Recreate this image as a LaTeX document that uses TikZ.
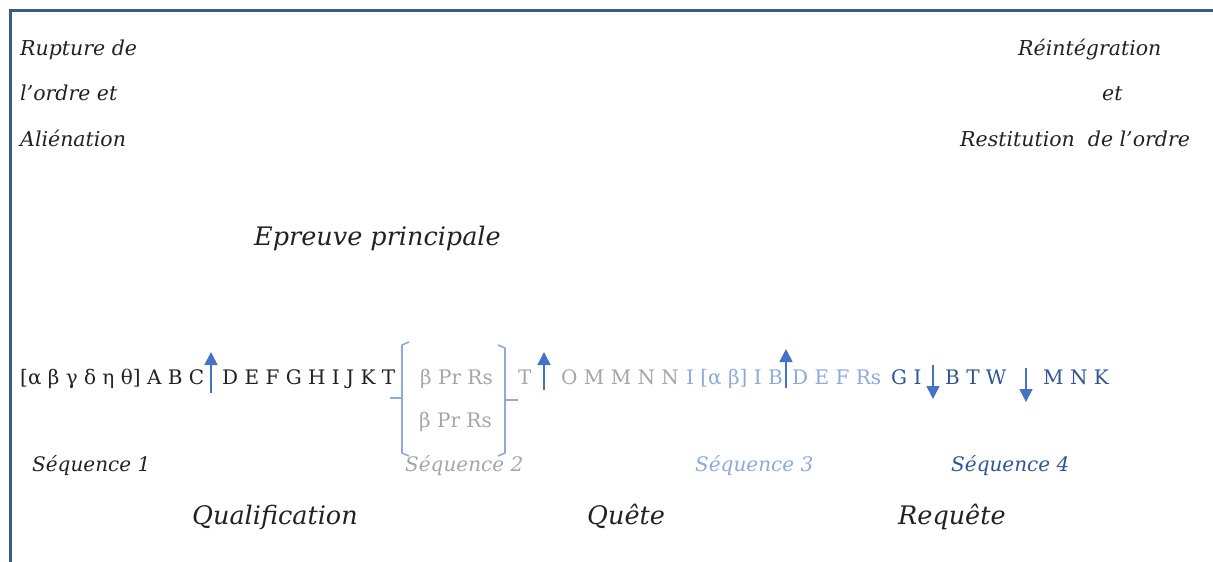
\documentclass[tikz,border=0pt]{standalone}
\usepackage{fontspec}
\setmainfont{DejaVu Serif}
\usetikzlibrary{arrows.meta}
\definecolor{cadre}{HTML}{3B5A85}
\definecolor{gris}{HTML}{A6A6A6}
\definecolor{bleuclair}{HTML}{8EAADB}
\definecolor{bleufonce}{HTML}{2F5597}
\definecolor{fleche}{HTML}{4472C4}
\definecolor{noir}{HTML}{222222}
\begin{document}
\begin{tikzpicture}[x=1pt,y=-1pt,
  txt/.style={inner sep=0pt, anchor=base west, text=noir},
  titre/.style={txt, font=\fontsize{20.5}{20.5}\selectfont\itshape},
  grand/.style={txt, font=\fontsize{25.5}{25.5}\selectfont\itshape},
  seq/.style={txt, font=\fontsize{20}{20}\selectfont\itshape},
  ligne/.style={txt, font=\fontsize{20}{20}\selectfont},
  haut/.style={fleche, line width=1.6pt, -{Triangle[length=13pt,width=13pt]}},
  crochet/.style={bleuclair, line width=1.6pt, line join=round}
]
\useasboundingbox (0,0) rectangle (1213,562);
\draw[cadre, line width=3pt] (10,562) -- (10,10) -- (1213,10);

% top labels
\node[titre] (r1) at (20,55) {Rupture de};
\node[titre] (r2) at (20,100) {l'ordre et};
\node[titre] (r3) at (20,146) {Aliénation};
\node[titre] (d1) at (1018,55) {Réintégration};
\node[titre] (d2) at (1102,100) {et};
\node[titre] (d3) at (960,146) {Restitution\ \ de l'ordre};

\node[grand] (ep) at (254,245) {Epreuve principale};

% main row
\node[ligne] (g1) at (20,384) {[α β γ δ η θ] A B C};
\node[ligne] (g2) at (222,384) {D E F G H I J K T};
\node[ligne, text=gris] (b1) at (420,384) {β Pr Rs};
\node[ligne, text=gris] (b2) at (419,427) {β Pr Rs};
\node[ligne, text=gris] (g3) at (518,384) {T};
\node[ligne, text=gris] (g4) at (561,384) {O M M N N};
\node[ligne, text=bleuclair] (g5) at (686,384) {I [α β] I B};
\node[ligne, text=bleuclair] (g6) at (792,384) {D E F Rs};
\node[ligne, text=bleufonce] (g7) at (891,384) {G I};
\node[ligne, text=bleufonce] (g8) at (945,384) {B T W};
\node[ligne, text=bleufonce] (g9) at (1043,384) {M N K};

% arrows
\coordinate (f1a) at (211,393); \coordinate (f1b) at (211,352);
\coordinate (f2a) at (544,390); \coordinate (f2b) at (544,352);
\coordinate (f3a) at (786,388); \coordinate (f3b) at (786,349);
\coordinate (f4a) at (933,365); \coordinate (f4b) at (933,399);
\coordinate (f5a) at (1026,368); \coordinate (f5b) at (1026,402);
\draw[haut] (f1a) -- (f1b);
\draw[haut] (f2a) -- (f2b);
\draw[haut] (f3a) -- (f3b);
\draw[haut] (f4a) -- (f4b);
\draw[haut] (f5a) -- (f5b);

% brackets
\coordinate (cg1) at (409,342); \coordinate (cg2) at (402,345);
\coordinate (cg3) at (402,453); \coordinate (cg4) at (409,456);
\coordinate (cgm) at (402,398); \coordinate (cgt) at (390,398);
\draw[crochet] (cg1) -- (cg2) -- (cg3) -- (cg4);
\draw[crochet] (cgm) -- (cgt);
\coordinate (cd1) at (498,345); \coordinate (cd2) at (505,348);
\coordinate (cd3) at (505,453); \coordinate (cd4) at (498,456);
\coordinate (cdm) at (505,400); \coordinate (cdt) at (518,400);
\draw[crochet] (cd1) -- (cd2) -- (cd3) -- (cd4);
\draw[crochet] (cdm) -- (cdt);

% sequences
\node[seq] (s1) at (32,471) {Séquence 1};
\node[seq, text=gris] (s2) at (405,471) {Séquence 2};
\node[seq, text=bleuclair] (s3) at (695,471) {Séquence 3};
\node[seq, text=bleufonce] (s4) at (951,471) {Séquence 4};

\node[grand] (q1) at (192,524) {Qualification};
\node[grand] (q2) at (587,524) {Quête};
\node[grand] (q3) at (898,524) {Requête};
\end{tikzpicture}
\end{document}
